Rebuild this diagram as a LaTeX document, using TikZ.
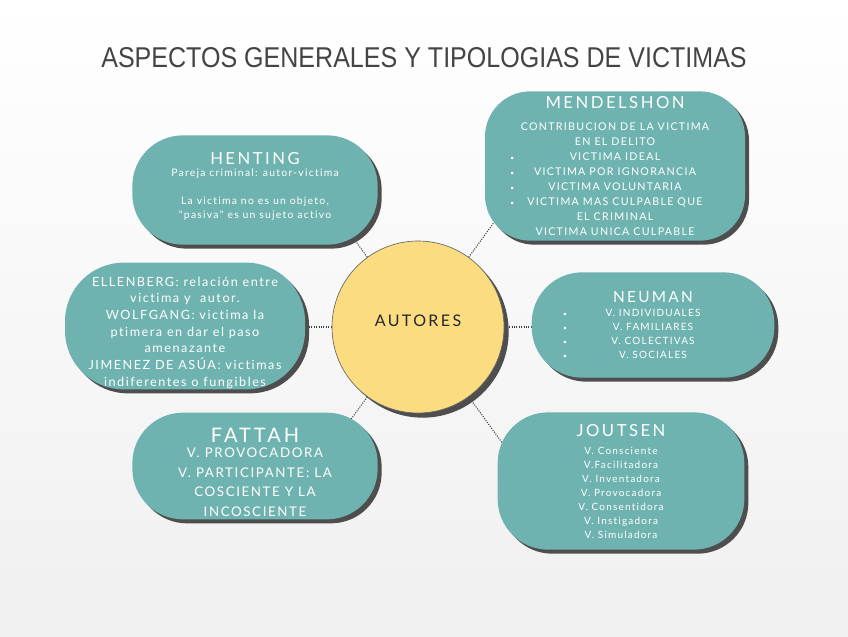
\documentclass[tikz,border=0pt]{standalone}
\usepackage{fontspec}
\setmainfont{Lato}
\newfontfamily\titlefont{Liberation Sans}
\newfontfamily\headfont[LetterSpace=15,Ligatures={NoCommon,NoRare}]{Lato}
\newfontfamily\bodyfont[LetterSpace=12,Ligatures={NoCommon,NoRare}]{Lato}
\usetikzlibrary{positioning,shadows,calc}
\pgfdeclarelayer{bg}
\pgfdeclarelayer{links}
\pgfsetlayers{bg,links,main}
\definecolor{tealbox}{RGB}{111,179,177}
\definecolor{shadowgray}{RGB}{78,78,78}
\definecolor{sunfill}{RGB}{252,220,128}
\definecolor{titlegray}{RGB}{68,68,68}
\newcommand{\bul}[2]{\makebox[#1]{\rlap{\tiny\textbullet}\hfill #2\hfill}}
\newcommand{\hd}[2]{{\headfont\fontsize{#1}{#1}\selectfont #2}}
\tikzset{
  pill/.style={draw=none, fill=tealbox, text=white, align=center, inner sep=0pt,
    drop shadow={shadow xshift=3pt, shadow yshift=-3pt, fill=shadowgray, opacity=1}},
  link/.style={densely dotted, line width=0.8pt, black!75}
}
\begin{document}
\begin{tikzpicture}[x=0.75pt,y=0.75pt,yscale=-1,xscale=1]
\begin{pgfonlayer}{bg}
\shade[top color=white, bottom color=black!6] (0,0) rectangle (848,636);
\end{pgfonlayer}
\useasboundingbox (0,0) rectangle (848,636);
% title
\node (title) at (424,58) {\resizebox{484pt}{15pt}{\color{titlegray}\titlefont ASPECTOS GENERALES Y TIPOLOGIAS DE VICTIMAS}};
% centre
\node (autores) [circle, fill=sunfill, draw=black!60, line width=0.5pt, minimum size=129pt, inner sep=0pt,
  drop shadow={shadow xshift=3.5pt, shadow yshift=-3.5pt, fill=shadowgray, opacity=1}] at (418,327)
  {\raisebox{10pt}{\headfont\fontsize{12}{14}\selectfont\color{black!85}AUTORES}};
% authors
\node (henting) [pill, minimum width=184pt, minimum height=82pt, rounded corners=38pt,
  font={\bodyfont\fontsize{7.8}{10.5}\selectfont}] at (255,190)
  {\hd{12.5}{HENTING}\\[-1.5pt] Pareja criminal: autor-victima\\[10.5pt] La victima no es un objeto,\\ "pasiva" es un sujeto activo\rule[-7pt]{0pt}{0pt}};
\node (mendelshon) [pill, minimum width=195pt, minimum height=112pt, rounded corners=34pt,
  font={\bodyfont\fontsize{8}{11.25}\selectfont}] at (615,166)
  {\hd{12.5}{MENDELSHON}\\[5pt] CONTRIBUCION DE LA VICTIMA\\ EN EL DELITO\\
   \bul{157pt}{VICTIMA IDEAL}\\ \bul{157pt}{VICTIMA POR IGNORANCIA}\\ \bul{157pt}{VICTIMA VOLUNTARIA}\\
   \bul{157pt}{VICTIMA MAS CULPABLE QUE}\\ EL CRIMINAL\\ VICTIMA UNICA CULPABLE};
\node (ellenberg) [pill, minimum width=180pt, minimum height=95pt, rounded corners=44pt,
  font={\bodyfont\fontsize{9.5}{12.5}\selectfont}] at (185,326)
  {\rule{0pt}{17pt}ELLENBERG: relación entre\\ victima y\ \ autor.\\ WOLFGANG: victima la\\ ptimera en dar el paso\\ amenazante\\
   JIMENEZ DE ASÚA: victimas\\ indiferentes o fungibles};
\node (neuman) [pill, minimum width=182pt, minimum height=79pt, rounded corners=38pt,
  font={\bodyfont\fontsize{7.5}{10.5}\selectfont}] at (653,325)
  {\hd{11.5}{NEUMAN}\\[0pt] \bul{135pt}{V. INDIVIDUALES}\\ \bul{135pt}{V. FAMILIARES}\\ \bul{135pt}{V. COLECTIVAS}\\ \bul{135pt}{V. SOCIALES}};
\node (fattah) [pill, minimum width=184pt, minimum height=80pt, rounded corners=38pt,
  font={\bodyfont\fontsize{10}{14.6}\selectfont}] at (255,466)
  {\hd{15}{\rule{0pt}{20pt}FATTAH}\\[-3pt] V. PROVOCADORA\\ V. PARTICIPANTE: LA\\ COSCIENTE Y LA\\ INCOSCIENTE};
\node (joutsen) [pill, minimum width=185pt, minimum height=103pt, rounded corners=38pt,
  font={\bodyfont\fontsize{7.5}{10.5}\selectfont}] at (621,481)
  {\hd{12.5}{JOUTSEN}\\[3pt] V. Consciente\\ V.Facilitadora\\ V. Inventadora\\ V. Provocadora\\ V. Consentidora\\ V. Instigadora\\ V. Simuladora};
% dotted links
\begin{pgfonlayer}{links}
\foreach \ang/\who in {126/henting, 54/mendelshon, 180/ellenberg, 0/neuman, 234/fattah, 306/joutsen}
  \draw[link] (autores.\ang) -- ($(autores.center)!1.75!(autores.\ang)$);
\end{pgfonlayer}
\end{tikzpicture}
\end{document}
